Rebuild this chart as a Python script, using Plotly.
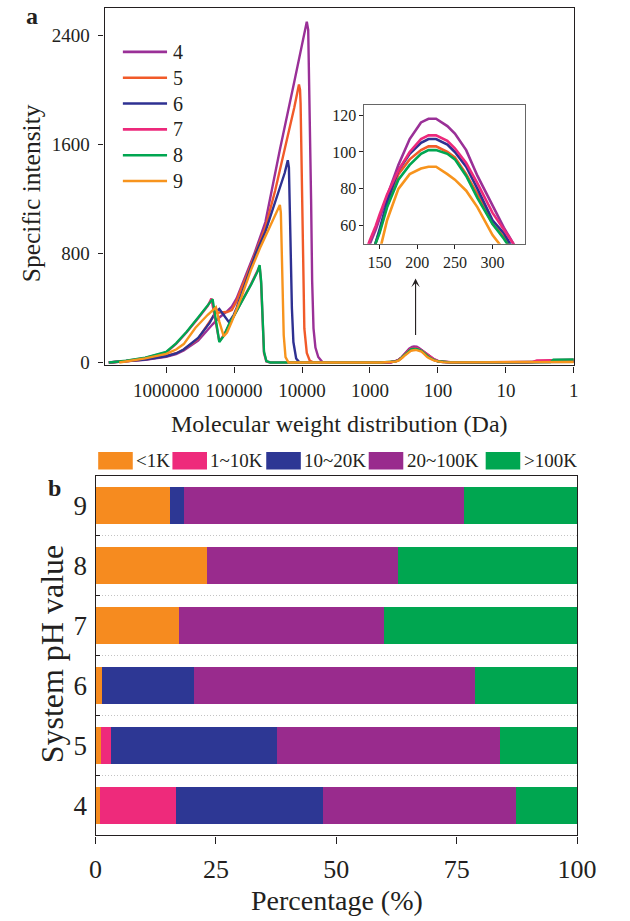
import numpy as np
import plotly.graph_objects as go

W, H = 630, 921
FONT = "Liberation Serif, Times New Roman, serif"
INK = "#231F20"


def px(x):
    return x / W


def py(y):
    return 1 - y / H


# ---- panel a: molecular weight distributions at each system pH ----
ph_labels = ["4", "5", "6", "7", "8", "9"]
line_colors = ["#9A3097", "#F15A29", "#2E3192", "#EC297B", "#00A651", "#F7941D"]

# high-molecular-weight region (Da, specific intensity)
mw_hi_ph4 = [6.98e6, 3.89e6, 2.03e6, 1.0e6, 7.14e5, 5.51e5, 3.38e5, 2.07e5, 1.65e5, 1.27e5,
             1.08e5, 9.18e4, 7.8e4, 6.63e4, 5.1e4, 3.46e4, 2.12e4, 1.3e4, 9.4e3, 8.51e3,
             8.11e3, 7.72e3, 7.36e3, 7.1e3, 6.78e3, 6.35e3, 5.77e3, 5.06e3, 4.45e3]
int_hi_ph4 = [0, 7, 20, 42, 62, 88, 160, 280, 330, 375,
              410, 470, 560, 640, 790, 1030, 1560, 2060, 2400, 2500,
              2440, 1930, 1200, 600, 250, 110, 40, 5, 0]

mw_hi_ph5 = [6.98e6, 3.89e6, 2.03e6, 1.0e6, 7.14e5, 5.51e5, 3.38e5, 2.44e5, 1.88e5, 1.65e5,
             1.27e5, 1.08e5, 9.18e4, 7.8e4, 6.63e4, 5.1e4, 3.46e4, 2.49e4, 1.8e4, 1.3e4,
             1.11e4, 1.07e4, 1.05e4, 1.0e4, 9.7e3, 9.25e3, 8.51e3, 7.72e3, 6.78e3]
int_hi_ph5 = [0, 8, 23, 48, 68, 95, 175, 275, 362, 367,
              370, 385, 450, 545, 625, 775, 990, 1260, 1560, 1870,
              2040, 2000, 1900, 1300, 700, 250, 70, 15, 0]

mw_hi_ph6 = [6.98e6, 3.89e6, 2.03e6, 1.0e6, 7.14e5, 5.51e5, 3.38e5, 2.29e5, 1.88e5, 1.65e5,
             1.42e5, 1.19e5, 1.01e5, 9.18e4, 7.8e4, 6.63e4, 4.79e4, 3.46e4, 2.49e4, 1.8e4,
             1.62e4, 1.56e4, 1.48e4, 1.41e4, 1.34e4, 1.22e4, 1.11e4, 1.0e4]
int_hi_ph6 = [0, 8, 22, 46, 66, 95, 180, 290, 370, 393,
              345, 296, 350, 400, 500, 600, 800, 960, 1170, 1390,
              1484, 1430, 900, 400, 150, 30, 5, 0]

mw_hi_ph7 = [6.98e6, 3.89e6, 2.03e6, 1.0e6, 7.14e5, 4.99e5, 3.38e5, 2.44e5, 2.16e5,
             1.88e5, 1.65e5, 1.42e5, 1.19e5, 1.01e5, 7.8e4, 5.63e4, 4.49e4, 4.21e4, 4.0e4,
             3.81e4, 3.63e4, 3.35e4, 2.94e4]
int_hi_ph7 = [0, 12, 34, 74, 136, 222, 325, 415, 470,
              320, 155, 200, 275, 335, 445, 575, 675, 705, 580,
              280, 70, 8, 0]

mw_hi_ph8 = [6.98e6, 3.89e6, 2.03e6, 1.0e6, 7.14e5, 4.99e5, 3.38e5, 2.44e5, 2.07e5,
             1.88e5, 1.65e5, 1.42e5, 1.19e5, 1.01e5, 7.8e4, 5.63e4, 4.49e4, 4.21e4, 4.0e4,
             3.81e4, 3.63e4, 3.35e4, 2.94e4]
int_hi_ph8 = [0, 13, 36, 78, 140, 225, 330, 420, 465,
              330, 150, 195, 280, 340, 440, 570, 670, 715, 600,
              300, 80, 10, 0]

mw_hi_ph9 = [4.9e6, 3.2e6, 2.03e6, 1.0e6, 7.14e5, 5.51e5, 3.7e5, 2.44e5, 1.85e5, 1.65e5,
             1.42e5, 1.27e5, 1.08e5, 7.8e4, 5.63e4, 4.07e4, 2.94e4, 2.26e4, 2.12e4, 2.05e4,
             1.95e4, 1.86e4, 1.75e4, 1.58e4]
int_hi_ph9 = [0, 14, 30, 63, 95, 135, 255, 350, 405, 300,
              192, 220, 300, 480, 680, 850, 1000, 1120, 1156, 1100,
              600, 200, 40, 0]

# low-molecular-weight region, shared sampling (Da)
mw_lo = [700, 500, 420, 380, 342, 328, 315, 300, 280, 265, 250, 240, 225, 215, 205, 190, 175,
         160, 150, 145, 137, 125, 115, 100, 85, 65, 40, 20, 10, 5, 4, 3.5, 2.2, 2, 1]
int_lo_ph4 = [0, 2, 10, 20, 38, 50, 59, 71, 87, 101, 110, 114, 118, 118, 116, 107, 93,
              76, 64, 58, 50, 36, 24, 12, 5, 2, 1, 1, 1, 2, 3, 5, 7, 9, 12]
int_lo_ph5 = [0, 2, 8, 17, 34, 45, 54, 61, 77, 88, 97, 100, 103, 103, 101, 96, 88,
              71, 57, 50, 41, 29, 19, 9, 4, 1, 1, 1, 1, 2, 3, 4, 5, 6, 8]
int_lo_ph6 = [0, 2, 9, 18, 36, 47, 56, 63, 80, 92, 100, 104, 107, 107, 105, 99, 90,
              73, 58, 50, 40, 28, 19, 9, 4, 1, 1, 1, 1, 1, 2, 2, 3, 4, 5]
int_lo_ph7 = [0, 2, 10, 20, 38, 50, 58, 67, 83, 94, 102, 106, 109, 109, 107, 100, 90,
              77, 66, 60, 52, 38, 25, 12, 5, 2, 1, 1, 1, 2, 4, 15, 17, 18, 20]
int_lo_ph8 = [0, 2, 8, 16, 33, 45, 53, 61, 75, 87, 96, 99, 101, 101, 99, 93, 85,
              70, 56, 50, 41, 29, 19, 9, 4, 1, 1, 1, 1, 1, 2, 2, 3, 20, 22]
int_lo_ph9 = [0, 1, 6, 13, 28, 38, 47, 55, 70, 79, 85, 88, 92, 92, 91, 88, 80,
              63, 46, 42, 34, 24, 16, 8, 3, 1, 1, 1, 1, 1, 1, 2, 2, 3, 4]

mw_series = [mw_hi_ph4 + mw_lo, mw_hi_ph5 + mw_lo, mw_hi_ph6 + mw_lo,
             mw_hi_ph7 + mw_lo, mw_hi_ph8 + mw_lo, mw_hi_ph9 + mw_lo]
int_series = [int_hi_ph4 + int_lo_ph4, int_hi_ph5 + int_lo_ph5, int_hi_ph6 + int_lo_ph6,
              int_hi_ph7 + int_lo_ph7, int_hi_ph8 + int_lo_ph8, int_hi_ph9 + int_lo_ph9]

mw_ticks = [1e6, 1e5, 1e4, 1e3, 100, 10, 1]
mw_tick_text = ["1000000", "100000", "10000", "1000", "100", "10", "1"]
intensity_ticks = [0, 800, 1600, 2400]
inset_mw_ticks = [150, 200, 250, 300]
inset_int_ticks = [60, 80, 100, 120]

# ---- panel b: share of each molecular weight class ----
size_classes = ["<1K", "1~10K", "10~20K", "20~100K", ">100K"]
bar_colors = ["#F68B1F", "#EE2A7B", "#2D3794", "#992B8D", "#00A650"]
share_lt1k = [1.0, 1.1, 1.3, 17.3, 23.2, 15.5]
share_1_10k = [15.8, 2.2, 0, 0, 0, 0]
share_10_20k = [30.4, 34.3, 19.1, 0, 0, 2.8]
share_20_100k = [40.2, 46.4, 58.4, 42.6, 39.7, 58.2]
share_gt100k = [12.6, 16.0, 21.2, 40.1, 37.1, 23.5]
shares = [share_lt1k, share_1_10k, share_10_20k, share_20_100k, share_gt100k]
pct_ticks = [0, 25, 50, 75, 100]

fig = go.Figure()

for i, ph in enumerate(ph_labels):
    fig.add_trace(go.Scatter(x=mw_series[i], y=int_series[i], mode="lines", name=ph,
                             line=dict(color=line_colors[i], width=2.4),
                             xaxis="x", yaxis="y", showlegend=False, hoverinfo="skip"))

for i, ph in enumerate(ph_labels):
    fig.add_trace(go.Scatter(x=mw_series[i], y=int_series[i], mode="lines", name=ph,
                             line=dict(color=line_colors[i], width=2.6),
                             xaxis="x2", yaxis="y2", showlegend=False, hoverinfo="skip"))

for j, cls in enumerate(size_classes):
    fig.add_trace(go.Bar(y=ph_labels, x=shares[j], orientation="h", name=cls,
                         marker=dict(color=bar_colors[j], line=dict(width=0)),
                         width=0.62, xaxis="x3", yaxis="y3", showlegend=False,
                         hoverinfo="skip"))

base_axis = dict(showline=True, linecolor=INK, linewidth=1.3, mirror=True, showgrid=False,
                 zeroline=False, ticks="outside", tickcolor=INK, tickwidth=1.2)

fig.update_layout(
    width=W, height=H, margin=dict(l=0, r=0, t=0, b=0), autosize=False,
    paper_bgcolor="white", plot_bgcolor="white", barmode="stack", hovermode=False,
    font=dict(family=FONT, color=INK),
    xaxis=dict(base_axis, type="log", range=[np.log10(8.04e6), 0],
               domain=[px(102.7), px(591.3)], anchor="y",
               tickvals=mw_ticks, ticktext=mw_tick_text, ticklen=6, ticklabelstandoff=2,
               tickfont=dict(family=FONT, size=19, color=INK)),
    yaxis=dict(base_axis, range=[-22, 2599], domain=[py(368.7), py(8.3)], anchor="x",
               tickvals=intensity_ticks, ticklen=5, ticklabelstandoff=5,
               tickfont=dict(family=FONT, size=19, color=INK)),
    xaxis2=dict(base_axis, range=[130, 342.5], domain=[px(373.3), px(540)], anchor="y2",
                tickvals=inset_mw_ticks, ticklen=4, linecolor="#666666", linewidth=1.2,
                tickfont=dict(family=FONT, size=16, color=INK)),
    yaxis2=dict(base_axis, range=[50.2, 125.4], domain=[py(246), py(106)], anchor="x2",
                tickvals=inset_int_ticks, ticklen=4, linecolor="#666666", linewidth=1.2,
                tickfont=dict(family=FONT, size=16, color=INK)),
    xaxis3=dict(base_axis, range=[0, 100], domain=[px(93.3), px(594.7)], anchor="y3",
                tickvals=pct_ticks, ticklen=7, ticklabelstandoff=3,
                tickfont=dict(family=FONT, size=26, color=INK)),
    yaxis3=dict(base_axis, type="category", categoryorder="array", categoryarray=ph_labels,
                range=[-0.5, 5.5], domain=[py(842.7), py(480)], anchor="x3",
                tickson="boundaries", showgrid=True, griddash="1px,2px", gridcolor="#C4C4C4",
                gridwidth=1, ticks="inside", ticklen=4, ticklabelstandoff=2,
                tickfont=dict(family=FONT, size=27, color=INK)),
)

shapes = []
annotations = []


def label(x, y, text, size, angle=0, anchor="center"):
    return dict(xref="paper", yref="paper", x=px(x), y=py(y), text=text, textangle=angle,
                showarrow=False, xanchor=anchor, yanchor="middle",
                font=dict(family=FONT, size=size, color=INK))


# legend of panel a
for i, ph in enumerate(ph_labels):
    yrow = 52.3 + 26.07 * i
    shapes.append(dict(type="line", xref="paper", yref="paper",
                       x0=px(121.7), x1=px(167.7), y0=py(yrow), y1=py(yrow),
                       line=dict(color=line_colors[i], width=2.6)))
    annotations.append(label(172, yrow, ph, 20, anchor="left"))

# legend of panel b
legend_x = [96, 173.3, 271, 377.7, 499.5]
for j, cls in enumerate(size_classes):
    shapes.append(dict(type="rect", xref="paper", yref="paper",
                       x0=px(legend_x[j]), x1=px(legend_x[j] + 36), y0=py(473.7), y1=py(455.9),
                       fillcolor=bar_colors[j], line=dict(width=0)))
    annotations.append(label(legend_x[j] + 37.5, 465,
                             cls.replace("<", "&lt;").replace(">", "&gt;"), 19, anchor="left"))

# arrow pointing to the zoomed view
annotations.append(dict(xref="paper", yref="paper", x=px(426.5), y=py(281), text="",
                        showarrow=True, ax=0, ay=58, arrowhead=3, arrowsize=1.3,
                        arrowwidth=1.1, arrowcolor=INK, standoff=0))

# axis titles and panel letters
annotations += [
    label(26, 195, "Specific intensity", 25.5, angle=-90),
    label(347, 428, "Molecular weight distribution (Da)", 24),
    label(345, 908, "Percentage (%)", 28),
    label(48, 660, "System pH value", 32, angle=-90),
    label(27.5, 16, "<b>a</b>", 24),
    label(50, 492, "<b>b</b>", 24),
]

fig.update_layout(shapes=shapes, annotations=annotations)
fig.write_html(
    "out.html",
    post_script="document.body.style.margin='0';document.body.style.overflow='hidden';",
)
